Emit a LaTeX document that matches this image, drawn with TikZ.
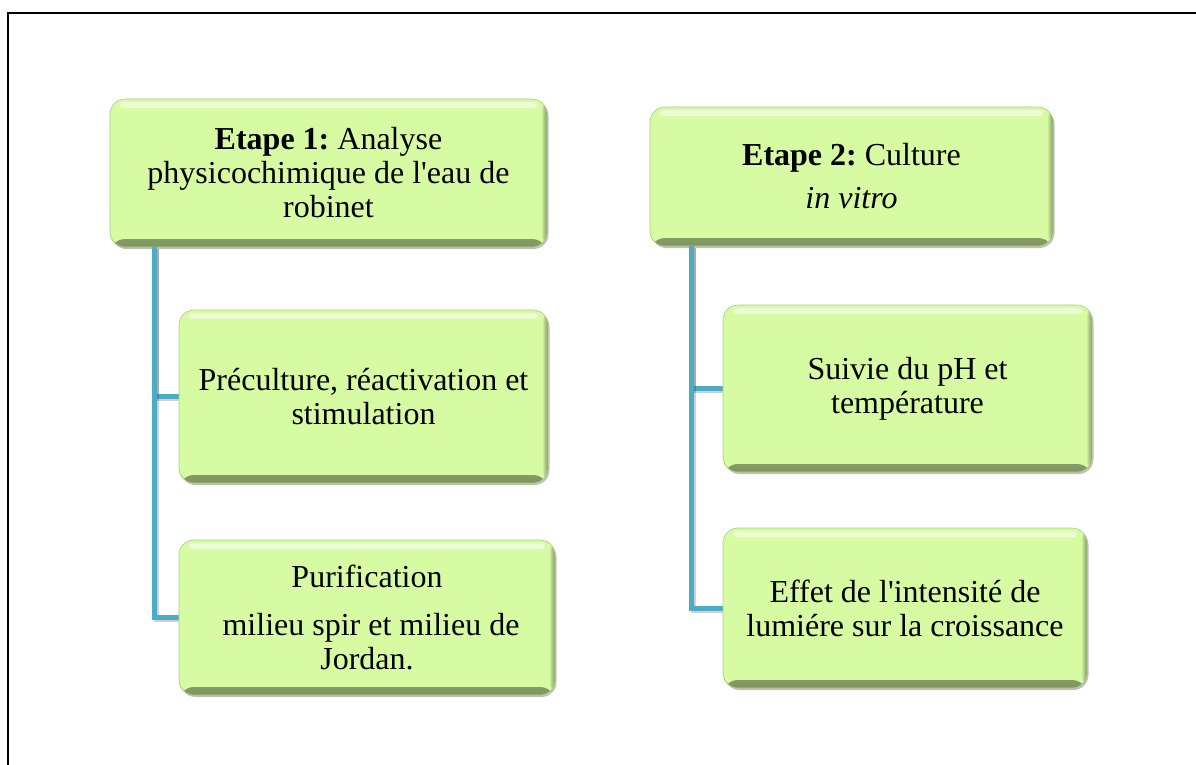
\documentclass[tikz,border=0pt]{standalone}
\usepackage{fontspec}
\setmainfont{Liberation Serif}
\usetikzlibrary{shadows}
\definecolor{boxgreen}{RGB}{214,251,163}
\definecolor{boxdark}{RGB}{128,150,98}
\definecolor{boxedge}{RGB}{170,205,130}
\definecolor{conncol}{RGB}{75,172,198}
\tikzset{
  gbox/.style={rounded corners=15pt, fill=boxgreen, draw=boxedge, line width=0.6pt,
    align=center, inner sep=0pt, font=\fontsize{32}{34}\selectfont\frenchspacing,
    drop shadow={shadow xshift=1.5pt, shadow yshift=-2pt, fill=black, opacity=0.25},
    path picture={
      \shade[top color=boxgreen, bottom color=boxdark]
        ([yshift=8pt]path picture bounding box.south west) rectangle (path picture bounding box.south east);
      \shade[left color=boxgreen, right color=boxdark]
        ([xshift=-6pt]path picture bounding box.south east) rectangle (path picture bounding box.north east);
      \fill[white, opacity=0.55, rounded corners=3pt]
        ([xshift=10pt, yshift=-3pt]path picture bounding box.north west) rectangle
        ([xshift=-10pt, yshift=-9pt]path picture bounding box.north east);
    }},
  conn/.style={draw=conncol, line width=5pt,
    preaction={draw=black, opacity=0.18, line width=5pt, transform canvas={shift={(2pt,-2pt)}}}},
  frame/.style={draw=black, line width=2pt}
}
\begin{document}
\begin{tikzpicture}[x=1pt, y=-1pt]
\useasboundingbox (0,0) rectangle (1196,764);
\fill[white] (0,0) rectangle (1196,764);
\coordinate (ftl) at (8,13);
\coordinate (ftr) at (1200,13);
\coordinate (fbl) at (8,770);
\draw[frame] (fbl) -- (ftl) -- (ftr);

\node[gbox, minimum width=437pt, minimum height=148pt] (b1) at (328.5,173)
  {\textbf{Etape 1:} Analyse\\ physicochimique de l\textquotesingle eau de\\ robinet};
\node[gbox, minimum width=403pt, minimum height=139pt] (b2) at (851.5,176.5)
  {\textbf{Etape 2:} Culture\\[9pt] \textit{in vitro}};

\coordinate (l1) at ([xshift=45pt]b1.south west);
\coordinate (r1) at ([xshift=42pt]b2.south west);
\path (363.5,396.5) coordinate (c3) (367,617.5) coordinate (c4)
      (907.5,388.5) coordinate (c5) (905,608) coordinate (c6);
\draw[conn] (l1) |- ([xshift=-184pt]c3);
\draw[conn] (l1) |- ([xshift=-187pt]c4);
\draw[conn] (r1) |- ([xshift=-184pt]c5);
\draw[conn] (r1) |- ([xshift=-182pt]c6);

\node[gbox, minimum width=369pt, minimum height=173pt] (b3) at (c3)
  {Préculture, réactivation et\\ stimulation};
\node[gbox, minimum width=376pt, minimum height=155pt] (b4) at (c4)
  {Purification\\[14pt] \ milieu spir et milieu de\\ Jordan.};
\node[gbox, minimum width=369pt, minimum height=167pt] (b5) at (c5)
  {Suivie du pH et\\ température};
\node[gbox, minimum width=364pt, minimum height=160pt] (b6) at (c6)
  {Effet de l\textquotesingle intensité de\\ lumiére sur la croissance};
\end{tikzpicture}
\end{document}
